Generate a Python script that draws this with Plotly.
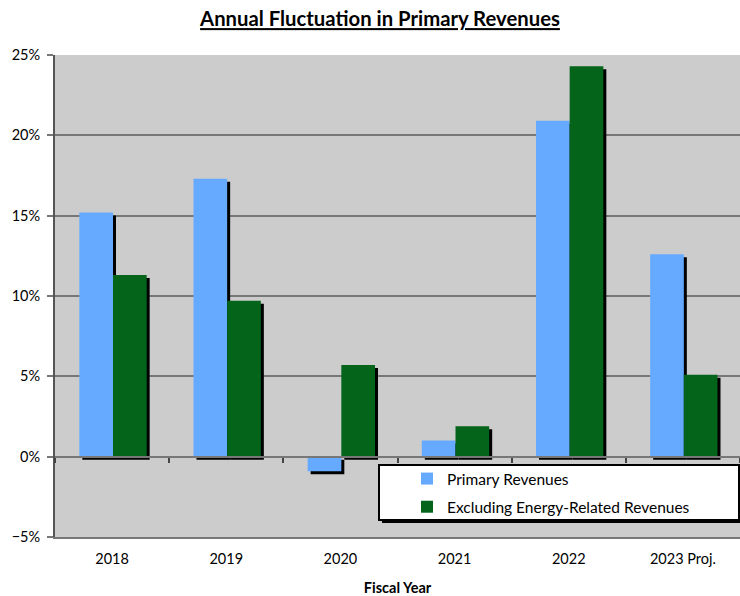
import plotly.graph_objects as go

categories = ["2018", "2019", "2020", "2021", "2022", "2023 Proj."]
primary = [15.2, 17.3, -0.9, 1.0, 20.9, 12.6]
excl_energy = [11.3, 9.7, 5.7, 1.9, 24.3, 5.1]
series_names = ["Primary Revenues", "Excluding Energy-Related Revenues"]
colors = ["#66aaff", "#03641a"]

FONT = "Lato"
W, H = 740, 596
ml, mr, mt, mb = 55, 0, 55, 59
plot_w = W - ml - mr
plot_h = H - mt - mb
yr = [-5, 25]
n = len(categories)
bw = 0.295
sx = 3 / (plot_w / n)            # 3px shadow shift in category units
sy = 3 / (plot_h / (yr[1] - yr[0]))  # 3px shadow shift in y units

fig = go.Figure()
offsets = [-bw + 0.008, 0.008]
for vals, off in zip([primary, excl_energy], offsets):
    fig.add_trace(go.Bar(
        x=categories, y=vals, base=[-sy] * n, offset=off + sx, width=bw,
        marker=dict(color="black", line=dict(width=0)),
        showlegend=False, hoverinfo="skip", xaxis="x", yaxis="y"))
for vals, off, name, c in zip([primary, excl_energy], offsets, series_names, colors):
    fig.add_trace(go.Bar(
        x=categories, y=vals, offset=off, width=bw, name=name,
        marker=dict(color=c, line=dict(width=0)),
        legendgroup=name, xaxis="x2", yaxis="y"))

# legend box + shadow (paper coordinates)
lx0, lx1, ly0, ly1 = 379, 739, 465, 520
def px_x(v):
    return (v - ml) / plot_w
def px_y(v):
    return 1 - (v - mt) / plot_h
fig.add_shape(type="rect", xref="paper", yref="paper", layer="above",
              x0=px_x(lx0 + 3), x1=px_x(lx1 + 3), y0=px_y(ly1 + 3), y1=px_y(ly0 + 3),
              fillcolor="black", line=dict(width=0))
fig.add_shape(type="rect", xref="paper", yref="paper", layer="above",
              x0=px_x(lx0), x1=px_x(lx1), y0=px_y(ly1), y1=px_y(ly0),
              fillcolor="white", line=dict(color="black", width=2))

grid = "#777777"
fig.update_layout(
    width=W, height=H,
    margin=dict(l=ml, r=mr, t=mt, b=mb, pad=0, autoexpand=False),
    paper_bgcolor="white", plot_bgcolor="#cccccc",
    barmode="overlay",
    font=dict(family=FONT, size=14.5, color="black"),
    title=dict(text="<b><u>Annual Fluctuation in Primary Revenues</u></b>",
               x=380 / W, xanchor="center", y=1 - 19 / H, yanchor="middle",
               font=dict(family=FONT, size=20.3, color="black")),
    xaxis=dict(type="category", categoryorder="array", categoryarray=categories,
               range=[-0.5, n - 0.5], showline=True, linecolor=grid, linewidth=2,
               ticks="", showgrid=False, zeroline=False, automargin=False,
               ticklabelstandoff=8,
               tickfont=dict(family=FONT, size=14.5),
               title=dict(text="<b>Fiscal Year</b>", font=dict(family=FONT, size=14.5), standoff=22)),
    xaxis2=dict(type="category", categoryorder="array", categoryarray=categories,
                range=[-0.5, n - 0.5], overlaying="x", anchor="free",
                position=(0 - yr[0]) / (yr[1] - yr[0]), side="bottom", automargin=False,
                showline=True, linecolor=grid, linewidth=2,
                ticks="outside", ticklen=5, tickwidth=1.5, tickcolor="#444444",
                tickson="boundaries", showticklabels=False, showgrid=False, zeroline=False),
    yaxis=dict(range=yr, dtick=5, ticksuffix="%", showgrid=True, gridcolor=grid, gridwidth=1.5,
               zeroline=False, showline=True, linecolor="#555555", linewidth=2, automargin=False,
               ticks="outside", ticklen=6, tickcolor=grid, tickwidth=1.5, ticklabelstandoff=4,
               tickfont=dict(family=FONT, size=14.5)),
    legend=dict(x=px_x(407), y=px_y(462), xanchor="left", yanchor="top",
                bgcolor="rgba(0,0,0,0)", borderwidth=0,
                font=dict(family=FONT, size=15.5), tracegroupgap=5, traceorder="grouped"),
)
fig.write_html("out.html", config={"displayModeBar": False},
               post_script="document.body.style.margin='0px';document.body.style.overflow='hidden';")
